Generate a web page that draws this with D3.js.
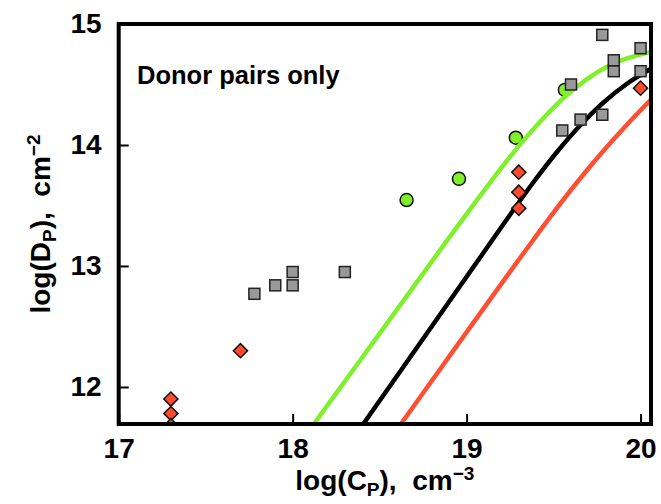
<!DOCTYPE html>
<html>
<head>
<meta charset="utf-8">
<script src="https://cdn.jsdelivr.net/npm/d3@7"></script>
<style>
  body { margin: 0; background: #fff; }
  svg { display: block; font-family: Arial, "Liberation Sans", sans-serif; font-weight: bold; }
</style>
</head>
<body>
<svg id="chart"></svg>
<script>
// measured points, [log C, log D]
const squares = [
  [17.78, 12.77], [17.90, 12.84], [18.0, 12.84], [18.0, 12.95], [18.30, 12.95],
  [19.55, 14.12], [19.655, 14.21], [19.78, 14.25], [19.60, 14.50],
  [19.846, 14.61], [19.846, 14.70], [20.0, 14.61], [20.0, 14.80], [19.78, 14.91]
];
const circles = [[18.655, 13.545], [18.956, 13.72], [19.283, 14.06], [19.565, 14.455]];
const diamonds = [
  [17.30, 11.90], [17.30, 11.78], [17.30, 11.68], [17.70, 12.30],
  [19.30, 13.775], [19.30, 13.61], [19.30, 13.477], [20.0, 14.47]
];

// curves
const greenCurve = [
  [18.065, 11.58], [18.122, 11.694], [18.885, 13.205], [19.057, 13.54], [19.191, 13.795],
  [19.325, 14.034], [19.46, 14.25], [19.575, 14.411], [19.69, 14.543], [19.843, 14.673], [20.06, 14.77]
];
const blackCurve = [
  [18.35, 11.58], [18.406, 11.694], [19.153, 13.225], [19.253, 13.43], [19.383, 13.69],
  [19.517, 13.938], [19.651, 14.159], [19.785, 14.349], [19.92, 14.504], [20.06, 14.63]
];
const redCurve = [
  [18.565, 11.58], [18.622, 11.694], [19.383, 13.215], [19.483, 13.41], [19.633, 13.688],
  [19.783, 13.946], [19.92, 14.165], [20.06, 14.375]
];

const xTicks = [17, 18, 19, 20];
const yTicks = [12, 13, 14, 15];

const w = 661;
const h = 504;
const margin = { top: 24, right: 10, bottom: 80, left: 118.7 };

const svg = d3.select('#chart').attr('width', w).attr('height', h);

const x = d3.scaleLinear().domain([17, 20.06]).range([margin.left, w - margin.right]);
const y = d3.scaleLinear().domain([11.694, 15]).range([h - margin.bottom, margin.top]);

svg.append('defs').append('clipPath').attr('id', 'plot')
  .append('rect')
  .attr('x', x(17)).attr('y', y(15))
  .attr('width', x(20.06) - x(17)).attr('height', y(11.694) - y(15));

const tickFont = 28;

const xAxis = svg.append('g')
  .attr('transform', `translate(0, ${y(11.694)})`)
  .call(d3.axisBottom(x).tickValues(xTicks).tickSize(-10).tickPadding(14).tickFormat(d3.format('d')));
const yAxis = svg.append('g')
  .attr('transform', `translate(${x(17)}, 0)`)
  .call(d3.axisLeft(y).tickValues(yTicks).tickSize(-10).tickPadding(17).tickFormat(d3.format('d')));

[xAxis, yAxis].forEach((g) => {
  g.select('.domain').remove();
  g.selectAll('line').attr('stroke', '#000').attr('stroke-width', 2);
  g.selectAll('text')
    .attr('fill', '#000')
    .style('font-size', tickFont + 'px')
    .style('font-family', 'Arial, "Liberation Sans", sans-serif')
    .style('font-weight', 'bold');
});

const data = svg.append('g').attr('clip-path', 'url(#plot)');

const line = d3.line()
  .x((d) => x(d[0]))
  .y((d) => y(d[1]))
  .curve(d3.curveMonotoneX);

data.selectAll('circle').data(circles).enter().append('circle')
  .attr('cx', (d) => x(d[0])).attr('cy', (d) => y(d[1]))
  .attr('r', 6.5)
  .attr('fill', '#80f02c').attr('stroke', '#111').attr('stroke-width', 1.5);

[[greenCurve, '#80f02c'], [blackCurve, '#000'], [redCurve, '#ff4f33']].forEach(([c, col]) => {
  data.append('path').datum(c)
    .attr('d', line)
    .attr('fill', 'none')
    .attr('stroke', col)
    .attr('stroke-width', 4.5);
});

data.selectAll('.dia').data(diamonds).enter().append('rect')
  .attr('class', 'dia')
  .attr('x', -5).attr('y', -5).attr('width', 10).attr('height', 10)
  .attr('transform', (d) => `translate(${x(d[0])},${y(d[1])}) rotate(45)`)
  .attr('fill', '#ff4a2e').attr('stroke', '#111').attr('stroke-width', 1.5);

data.selectAll('.sq').data(squares).enter().append('rect')
  .attr('class', 'sq')
  .attr('x', (d) => x(d[0]) - 5.5).attr('y', (d) => y(d[1]) - 5.5)
  .attr('width', 11).attr('height', 11)
  .attr('fill', '#999').attr('stroke', '#222').attr('stroke-width', 1.5);

// frame
svg.append('rect')
  .attr('x', x(17)).attr('y', y(15))
  .attr('width', x(20.06) - x(17)).attr('height', y(11.694) - y(15))
  .attr('fill', 'none').attr('stroke', '#000').attr('stroke-width', 4);

svg.append('text')
  .attr('x', 137).attr('y', 84)
  .style('font-size', '25.5px')
  .text('Donor pairs only');

// axis titles
const xt = svg.append('text')
  .attr('x', (x(17) + x(20.06)) / 2).attr('y', 490)
  .attr('text-anchor', 'middle')
  .style('font-size', '28px');
xt.append('tspan').text('log(C');
xt.append('tspan').attr('baseline-shift', '-6').style('font-size', '19px').text('P');
xt.append('tspan').text('),\u00a0\u00a0cm');
xt.append('tspan').attr('baseline-shift', '10').style('font-size', '19px').text('\u22123');

const yt = svg.append('text')
  .attr('transform', `translate(50, ${(y(11.694) + y(15)) / 2}) rotate(-90)`)
  .attr('text-anchor', 'middle')
  .style('font-size', '28px');
yt.append('tspan').text('log(D');
yt.append('tspan').attr('baseline-shift', '-6').style('font-size', '19px').text('P');
yt.append('tspan').text('),\u00a0\u00a0cm');
yt.append('tspan').attr('baseline-shift', '10').style('font-size', '19px').text('\u22122');
</script>
</body>
</html>
